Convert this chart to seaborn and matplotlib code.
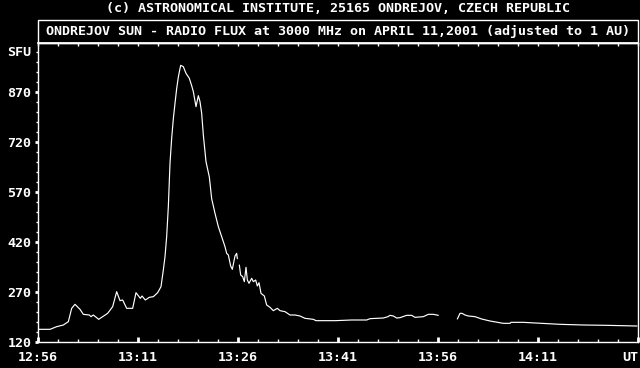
import numpy as np
import pandas as pd
import matplotlib
matplotlib.use("Agg")
import matplotlib.pyplot as plt
import seaborn as sns
from matplotlib.patches import Rectangle

# --- data: minutes after 12:56 UT, flux in SFU; seg = continuous piece of the record
seg1_t = [0.15, 1.8, 2.8, 3.8, 4.55, 5.05, 5.55, 6.3, 6.8, 7.7, 7.95, 8.3, 9.1, 9.7,
          10.45, 11.2, 11.8, 12.3, 12.7, 13.3, 14.2, 14.7, 15.35, 15.6, 16.1, 16.7,
          17.3, 17.95, 18.45, 18.8, 19.05, 19.3, 19.55, 19.8, 20.05, 20.3, 20.55,
          20.8, 21.05, 21.4, 21.8, 22.2, 22.7, 23.05, 23.3, 23.7, 24.05, 24.3, 24.55,
          24.8, 25.2, 25.7, 26.05, 26.55, 27.05, 27.55, 28.05, 28.3, 28.55, 28.9,
          29.15, 29.55, 29.8, 29.9]
seg1_v = [158, 158, 166, 171, 181, 221, 233, 218, 203, 201, 196, 201, 188, 196,
          206, 226, 271, 244, 246, 221, 221, 268, 251, 258, 246, 254,
          256, 268, 286, 336, 376, 436, 526, 656, 731, 790, 836,
          880, 915, 950, 946, 926, 911, 889, 871, 826, 859, 841, 806,
          741, 661, 615, 550, 506, 466, 436, 406, 386, 381, 348,
          338, 378, 386, 370]
seg2_t = [30.2, 30.4, 30.7, 30.95, 31.2, 31.4, 31.65, 32.05, 32.3, 32.65, 32.9, 33.15,
          33.45, 33.95, 34.3, 34.8, 35.3, 35.9, 36.3, 37.05, 37.8, 38.55, 39.3, 40.05,
          41.3, 41.7, 44.55, 47.05, 49.3, 49.8, 51.8, 52.5, 52.8, 53.3, 53.8, 54.3,
          55.3, 56.05, 56.55, 57.8, 58.55, 59.3, 60.05]
seg2_v = [351, 321, 316, 301, 344, 306, 296, 311, 301, 306, 288, 298,
          266, 258, 231, 224, 214, 221, 214, 211, 201, 201, 198, 191,
          188, 184, 184, 186, 186, 190, 192, 196, 200, 198, 192, 193,
          200, 200, 194, 196, 203, 203, 200]
seg3_t = [62.9, 63.3, 63.6, 64.05, 64.55, 65.55, 66.55, 67.8, 69.8, 70.8, 70.95,
          72.8, 75.55, 78.3, 81.8, 85.3, 89.85]
seg3_v = [189, 206, 206, 201, 198, 196, 189, 183, 176, 176, 179,
          179, 176, 173, 171, 170, 168]

x_tick_pos = [0, 15, 30, 45, 60, 75, 90]
x_tick_labels = ["12:56", "13:11", "13:26", "13:41", "13:56", "14:11", "UT"]
y_tick_pos = [120, 270, 420, 570, 720, 870]
y_tick_labels = ["120", "270", "420", "570", "720", "870"]
header = "(c) ASTRONOMICAL INSTITUTE, 25165 ONDREJOV, CZECH REPUBLIC"
title = "ONDREJOV SUN - RADIO FLUX at 3000 MHz on APRIL 11,2001 (adjusted to 1 AU)"

df = pd.concat([
    pd.DataFrame({"t": seg1_t, "sfu": seg1_v, "seg": 1}),
    pd.DataFrame({"t": seg2_t, "sfu": seg2_v, "seg": 2}),
    pd.DataFrame({"t": seg3_t, "sfu": seg3_v, "seg": 3}),
])

sns.set_theme(style="dark", rc={"axes.facecolor": "black", "figure.facecolor": "black"})
plt.rcParams["font.family"] = ["DejaVu Sans Mono"]
plt.rcParams["font.weight"] = "bold"

W, H = 640, 368
fig = plt.figure(figsize=(6.4, 3.68), dpi=100, facecolor="black")
ax = fig.add_axes([38 / W, (H - 342) / H, 600 / W, 299 / H])
ax.set_facecolor("black")

sns.lineplot(data=df, x="t", y="sfu", units="seg", estimator=None, sort=False,
             color="white", lw=0.85, ax=ax, legend=False)

ax.set_xlim(0, 90)
ax.set_ylim(120, 120 + 299 * 3)
ax.set_xlabel("")
ax.set_ylabel("")
ax.grid(False)
for s in ax.spines.values():
    s.set_color("white")
    s.set_linewidth(1.0)
    s.set_visible(True)

fs = 9.6
ax.set_xticks(x_tick_pos)
ax.set_xticklabels(x_tick_labels, color="white", fontsize=fs, fontweight="bold")
ax.get_xticklabels()[-1].set_horizontalalignment("right")
ax.set_xticks(np.arange(0, 91, 3), minor=True)
ax.set_yticks(y_tick_pos)
ax.set_yticklabels(y_tick_labels, color="white", fontsize=fs, fontweight="bold")
ax.set_yticks(np.arange(120, 1017, 30), minor=True)

ax.tick_params(axis="x", which="major", direction="in", length=3.5, width=2,
               color="white", pad=6.5, bottom=True, top=False)
ax.tick_params(axis="x", which="minor", direction="in", length=2.5, width=1,
               color="white", bottom=True, top=False)
ax.tick_params(axis="y", which="major", direction="out", length=2.2, width=2,
               color="white", pad=2.6, left=True, right=False)
ax.tick_params(axis="y", which="minor", direction="out", length=1.2, width=1,
               color="white", left=True, right=False)

sec = ax.secondary_xaxis("top")
sec.set_xticks(np.arange(0, 91, 3))
sec.tick_params(direction="in", length=2, width=1, color="white", labeltop=False)
sec.spines["top"].set_color("white")

ax.text(-0.011, (990 - 120) / (299 * 3), "SFU", transform=ax.transAxes,
        ha="right", va="center", color="white", fontsize=fs, fontweight="bold")

# title box
fig.patches.append(Rectangle((38 / W, (H - 43) / H), 600 / W, 23 / H,
                             transform=fig.transFigure, fill=False,
                             edgecolor="white", lw=1.0))
fig.text(338 / W, (H - 31.5) / H, title, ha="center", va="center",
         color="white", fontsize=fs, fontweight="bold")
fig.text(338 / W, (H - 9) / H, header, ha="center", va="center",
         color="white", fontsize=fs, fontweight="bold")

fig.savefig("out.png", dpi=100, facecolor="black")
